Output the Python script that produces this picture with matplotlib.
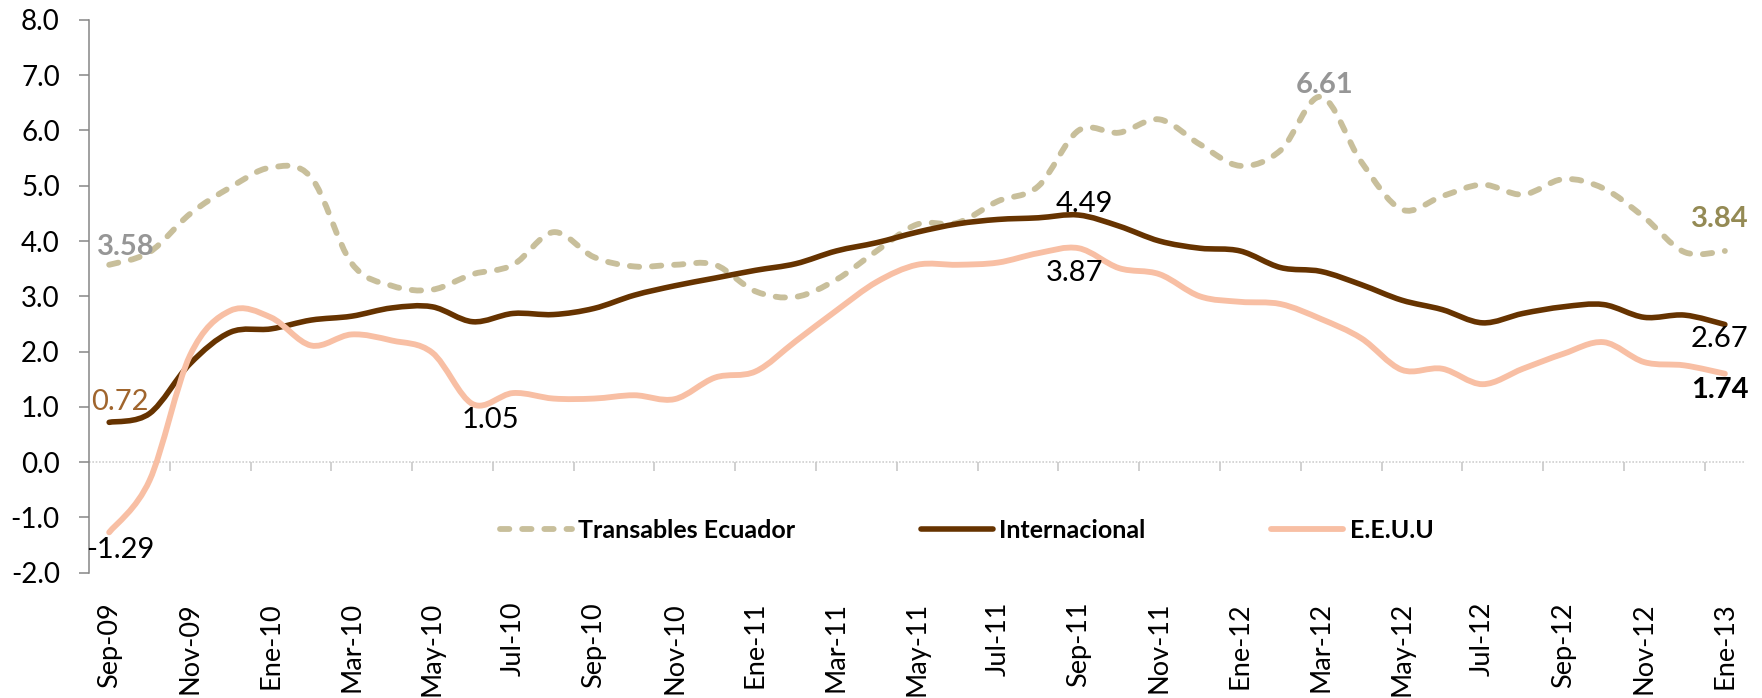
import matplotlib
matplotlib.use('Agg')
from matplotlib import pyplot as plt
from matplotlib.path import Path
from matplotlib.patches import PathPatch
from matplotlib.lines import Line2D

plt.rcParams['font.family'] = ['Lato', 'DejaVu Sans']

# monthly series, Sep-09 .. Ene-13
months = ['Sep-09', 'Oct-09', 'Nov-09', 'Dic-09', 'Ene-10', 'Feb-10', 'Mar-10', 'Abr-10', 'May-10', 'Jun-10',
          'Jul-10', 'Ago-10', 'Sep-10', 'Oct-10', 'Nov-10', 'Dic-10', 'Ene-11', 'Feb-11', 'Mar-11', 'Abr-11',
          'May-11', 'Jun-11', 'Jul-11', 'Ago-11', 'Sep-11', 'Oct-11', 'Nov-11', 'Dic-11', 'Ene-12', 'Feb-12',
          'Mar-12', 'Abr-12', 'May-12', 'Jun-12', 'Jul-12', 'Ago-12', 'Sep-12', 'Oct-12', 'Nov-12', 'Dic-12',
          'Ene-13']

transables = [3.57, 3.80, 4.49, 4.97, 5.33, 5.15, 3.60, 3.19, 3.12, 3.40,
              3.57, 4.16, 3.71, 3.54, 3.57, 3.57, 3.09, 2.99, 3.30, 3.82,
              4.30, 4.33, 4.72, 4.99, 6.00, 5.96, 6.20, 5.75, 5.36, 5.64,
              6.61, 5.43, 4.57, 4.81, 5.02, 4.84, 5.12, 4.95, 4.43, 3.80,
              3.82]
internacional = [0.72, 0.88, 1.78, 2.35, 2.41, 2.57, 2.64, 2.79, 2.81, 2.54,
                 2.69, 2.67, 2.78, 3.02, 3.19, 3.33, 3.47, 3.59, 3.82, 3.97,
                 4.16, 4.31, 4.39, 4.42, 4.47, 4.27, 4.00, 3.87, 3.82, 3.52,
                 3.45, 3.21, 2.93, 2.76, 2.52, 2.69, 2.81, 2.85, 2.62, 2.66,
                 2.49]
eeuu = [-1.27, -0.33, 1.93, 2.74, 2.62, 2.11, 2.31, 2.20, 1.98, 1.05,
        1.25, 1.15, 1.15, 1.21, 1.14, 1.53, 1.64, 2.19, 2.74, 3.26,
        3.57, 3.57, 3.61, 3.78, 3.87, 3.51, 3.40, 3.00, 2.90, 2.86,
        2.59, 2.24, 1.67, 1.69, 1.41, 1.69, 1.96, 2.17, 1.81, 1.75,
        1.60]

series_names = ['Transables Ecuador', 'Internacional', 'E.E.U.U']
yticks = [-2.0, -1.0, 0.0, 1.0, 2.0, 3.0, 4.0, 5.0, 6.0, 7.0, 8.0]

# data labels: (series, index, text, color, bold, offset in pt)
labels = [
    (0, 0, '3.58', '#969696', True, (12, 13)),
    (1, 0, '0.72', '#A0652D', False, (7.7, 14.5)),
    (2, 0, '-1.29', 'black', False, (7.7, -13)),
    (2, 9, '1.05', 'black', False, (12.6, -11.3)),
    (1, 24, '4.49', 'black', False, (4.5, 7.6)),
    (2, 24, '3.87', 'black', False, (-2.9, -17.9)),
    (0, 30, '6.61', '#969696', True, (2.3, 8.4)),
    (0, 40, '3.84', '#948A54', True, (-3.8, 22.7)),
    (1, 40, '2.67', 'black', False, (-3.8, -10.8)),
    (2, 40, '1.74', 'black', True, (-3.8, -11.4)),
]


def smooth_path(ys):
    """ Excel-like smoothed line: cubic bezier through every point. """
    n = len(ys)
    xs = list(range(n))
    verts = [(xs[0], ys[0])]
    codes = [Path.MOVETO]
    for i in range(n - 1):
        x0, y0 = xs[max(i - 1, 0)], ys[max(i - 1, 0)]
        x1, y1 = xs[i], ys[i]
        x2, y2 = xs[i + 1], ys[i + 1]
        x3, y3 = xs[min(i + 2, n - 1)], ys[min(i + 2, n - 1)]
        c1 = (x1 + (x2 - x0) / 6, y1 + (y2 - y0) / 6)
        c2 = (x2 - (x3 - x1) / 6, y2 - (y3 - y1) / 6)
        verts += [c1, c2, (x2, y2)]
        codes += [Path.CURVE4] * 3
    return Path(verts, codes)


fig = plt.figure(figsize=(17.62, 6.98), dpi=100)
ax = fig.add_axes([0.0505, 0.1795, 0.9399, 0.792])

styles = [
    dict(color='#C8BF9B', lw=4.2, ls=(0, (1.6, 2.2))),
    dict(color='#663300', lw=4.0, ls='-'),
    dict(color='#F8BFA4', lw=4.2, ls='-'),
]
data = [transables, internacional, eeuu]
for ys, st in zip(data, styles):
    p = PathPatch(smooth_path(ys), fill=False, edgecolor=st['color'], lw=st['lw'],
                  linestyle=st['ls'], capstyle='round', joinstyle='round', zorder=3)
    ax.add_patch(p)

for s, i, txt, col, bold, off in labels:
    ax.annotate(txt, xy=(i, data[s][i]), xytext=off, textcoords='offset points',
                ha='center', va='center', fontsize=21, color=col,
                fontweight='bold' if bold else 'normal', zorder=5)

n = len(months)
ax.set_xlim(-0.5, n - 0.5)
ax.set_ylim(-2, 8)

# zero line with category tick marks
ax.axhline(0, color='#D0D0D0', lw=1.2, ls=(0, (1, 1)), zorder=1)
ax.vlines([k + 1.5 for k in range(0, n - 2, 2)], -0.16, 0, color='#C8C8C8', lw=1.2, zorder=1)

ax.set_xticks(range(0, n, 2))
ax.set_xticklabels(months[::2], rotation=90, fontsize=19.5)
ax.tick_params(axis='x', length=0, pad=21)

ax.set_yticks(yticks)
ax.set_yticklabels(['%.1f' % v for v in yticks], fontsize=20)
ax.tick_params(axis='y', length=7, width=1.1, color='#868686', pad=14)

for side in ['top', 'right', 'bottom']:
    ax.spines[side].set_visible(False)
ax.spines['left'].set_color('#868686')
ax.spines['left'].set_linewidth(1.1)

handles = [Line2D([], [], color=st['color'], lw=st['lw'], ls=st['ls'], solid_capstyle='round',
                  dash_capstyle='round') for st in styles]
fig.legend(handles, series_names, loc='center', bbox_to_anchor=(966.5 / 1762, 1 - 530 / 698),
           ncol=3, frameon=False, handlelength=2.9, handletextpad=0.25, columnspacing=5.0,
           prop={'weight': 'bold', 'size': 18})

fig.savefig('out.png', dpi=100)
